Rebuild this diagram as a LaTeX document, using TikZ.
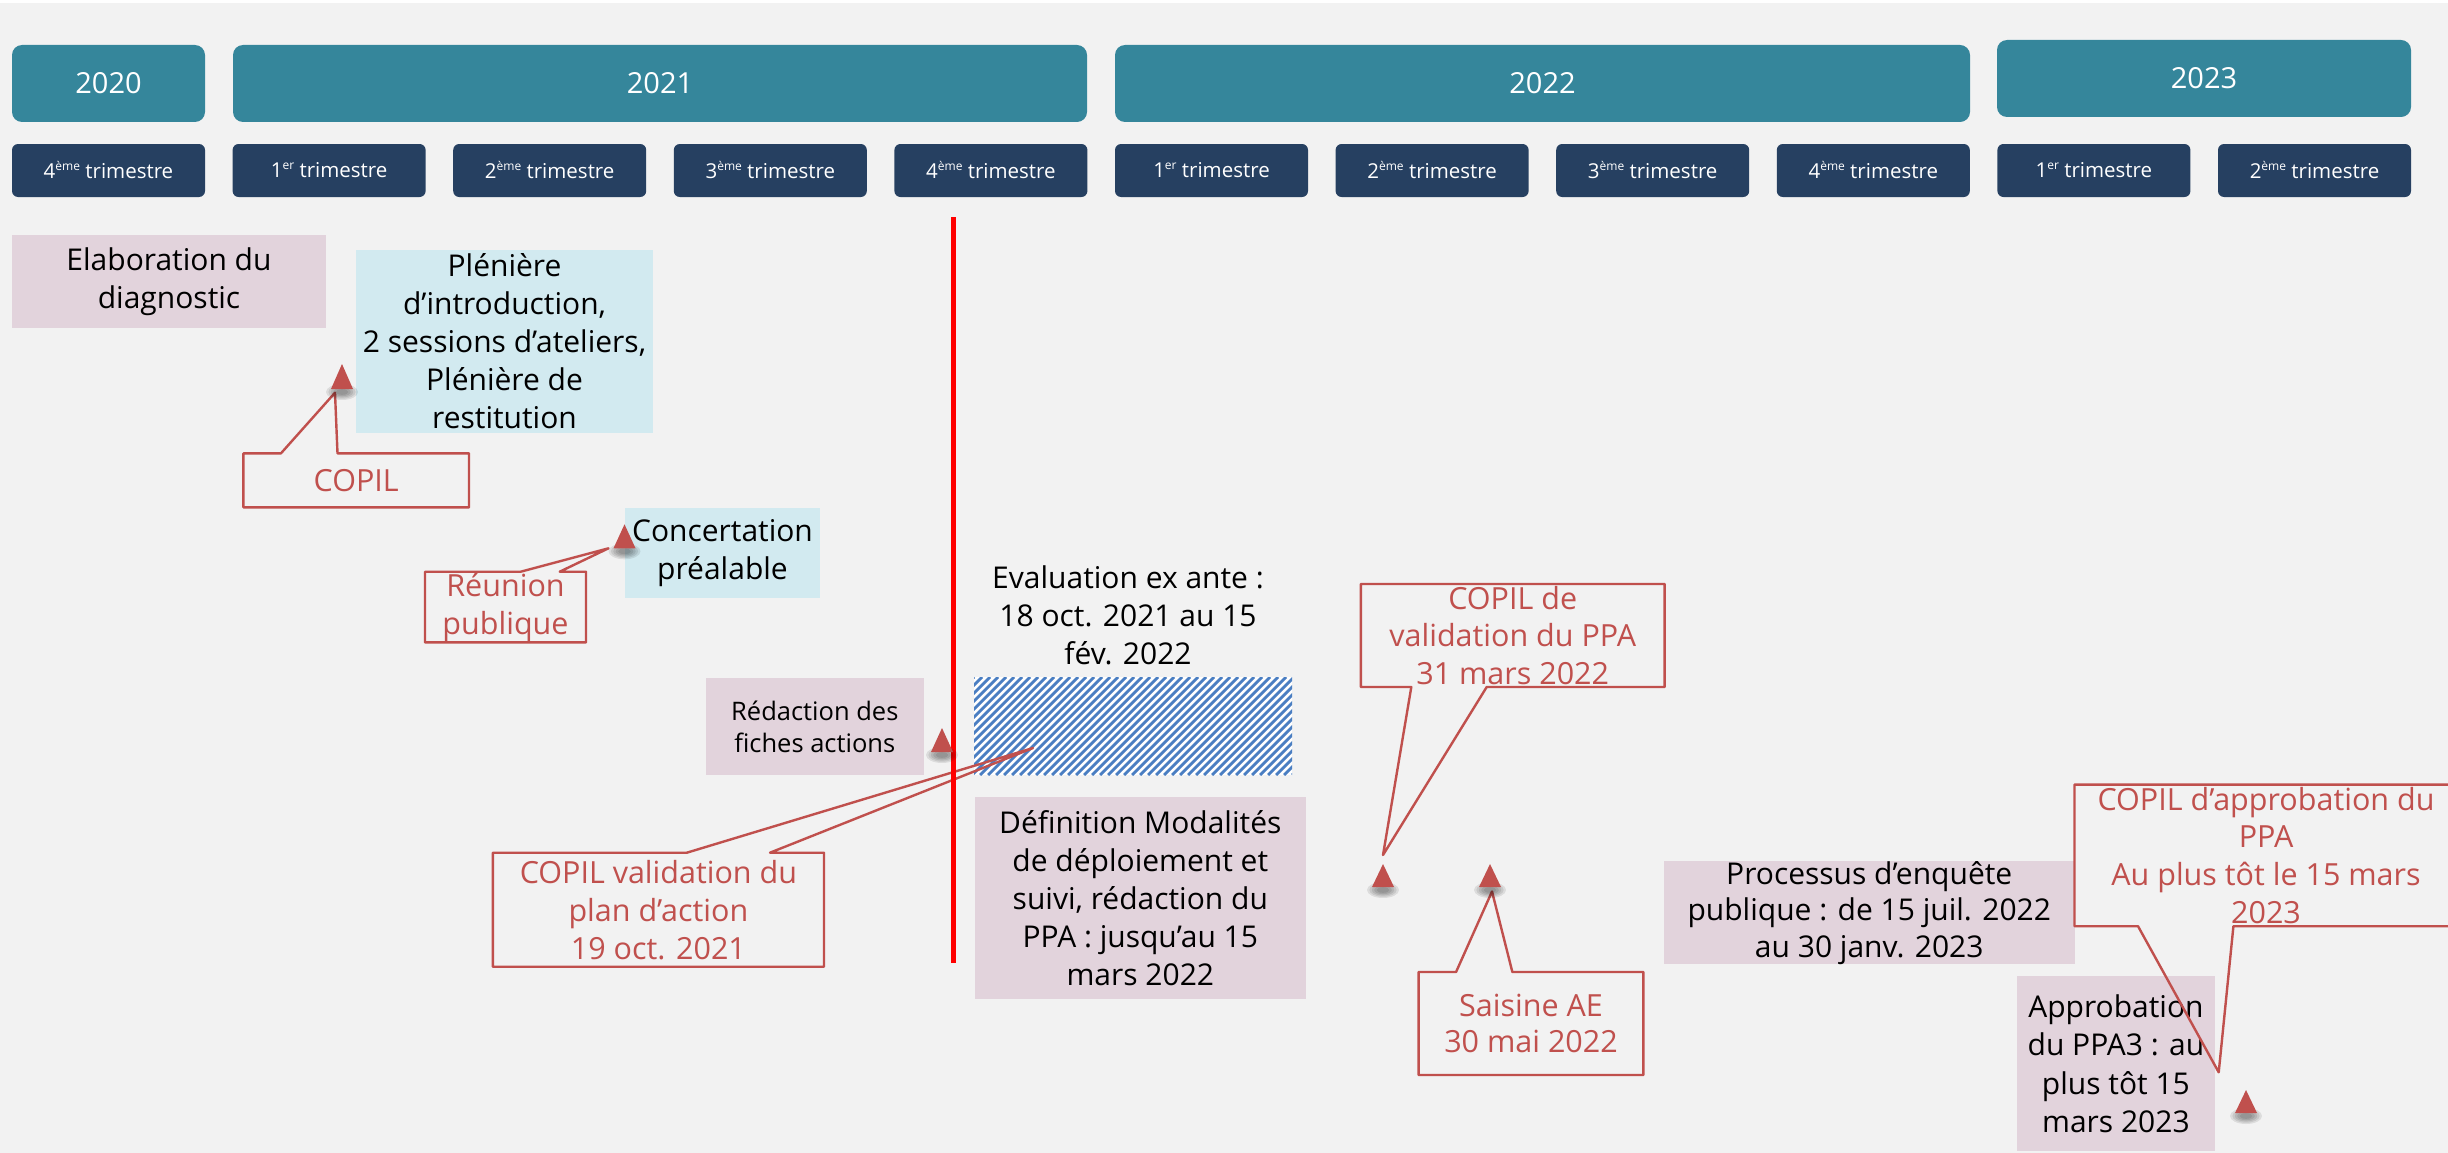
\documentclass[tikz,border=0pt]{standalone}
\usepackage{fontspec}
\setmainfont{Open Sans}
\usetikzlibrary{calc}
\definecolor{bgc}{HTML}{F2F2F2}
\definecolor{tealc}{HTML}{35869B}
\definecolor{navyc}{HTML}{264061}
\definecolor{pinkc}{HTML}{E2D3DC}
\definecolor{lbluec}{HTML}{D2EAF0}
\definecolor{redc}{HTML}{C0504D}
\definecolor{hatchc}{HTML}{4A7EC2}
\newcommand\qs[1]{\raisebox{8pt}{\fontsize{12}{12}\selectfont #1}}
\newcommand\calltop[4]{%
  \draw[callout] (#1.north west) -- ($(#1.north west)+(#2,0)$) -- (#4) -- ($(#1.north west)+(#3,0)$) -- (#1.north east) -- (#1.south east) -- (#1.south west) -- cycle;}
\newcommand\callbot[4]{%
  \draw[callout] (#1.south west) -- ($(#1.south west)+(#2,0)$) -- (#4) -- ($(#1.south west)+(#3,0)$) -- (#1.south east) -- (#1.north east) -- (#1.north west) -- cycle;}
\newcommand\mrk[4]{%
  \foreach \k in {1,...,5}{\fill[black, opacity=0.09] (#1,#3+3) ellipse [x radius={4+2.4*\k}, y radius={1.5+1.3*\k}];}
  \fill[redc] (#1,#2) coordinate (#4) -- (#1-11,#3) -- (#1+11,#3) -- cycle;}
\begin{document}
\begin{tikzpicture}[x=1pt,y=-1pt,
  yearbox/.style={fill=tealc, rounded corners=10, text=white, font=\fontsize{29}{34}\selectfont, inner sep=0, outer sep=0, minimum height=77},
  qbox/.style={fill=navyc, rounded corners=6, text=white, font=\fontsize{20.5}{24}\selectfont, inner sep=0, outer sep=0, minimum width=193, minimum height=53},
  txt/.style={font=\fontsize{30}{38}\selectfont, align=center, inner sep=0, outer sep=0},
  pinkbox/.style={txt, fill=pinkc},
  bluebox/.style={txt, fill=lbluec},
  calloutnode/.style={txt, font=\fontsize{30.5}{38}\selectfont, text=redc},
  callout/.style={draw=redc, line width=2.4, line join=round},
]
\useasboundingbox (0,0) rectangle (2448,1153);
\fill[bgc] (0,0) rectangle (2448,1153);
\fill[white] (0,0) rectangle (2448,3);

% years
\node[yearbox, minimum width=193] (y2020) at (108.5,83.5) {2020};
\node[yearbox, minimum width=854] (y2021) at (660,83.5) {2021};
\node[yearbox, minimum width=855] (y2022) at (1542.5,83.5) {2022};
\node[yearbox, minimum width=414] (y2023) at (2204,78.5) {2023};

% quarters
\foreach \i/\lab in {0/{4\qs{ème}}, 1/{1\qs{er}}, 2/{2\qs{ème}}, 3/{3\qs{ème}}, 4/{4\qs{ème}}, 5/{1\qs{er}}, 6/{2\qs{ème}}, 7/{3\qs{ème}}, 8/{4\qs{ème}}, 9/{1\qs{er}}, 10/{2\qs{ème}}}
  \node[qbox] (q\i) at (108.5+220.6*\i,170.5) {\lab\ trimestre};

% boxes
\node[pinkbox, minimum width=314, minimum height=92.7] (elab) at (169,281.4) {Elaboration du\\diagnostic};
\node[bluebox, minimum width=297, minimum height=182.7] (plen) at (504.5,341.4) {Plénière\\d’introduction,\\2 sessions d’ateliers,\\Plénière de\\restitution};
\node[bluebox, minimum width=195, minimum height=90.5] (conc) at (722.5,552.8) {Concertation\\préalable};
\node[pinkbox, font=\fontsize{25.5}{32}\selectfont, minimum width=217.5, minimum height=97] (redac) at (814.8,726.5) {Rédaction des\\fiches actions};
\node[pinkbox, minimum width=330.6, minimum height=202.3] (defin) at (1140.3,897.9) {Définition Modalités\\de déploiement et\\suivi, rédaction du\\PPA : jusqu’au 15\\mars 2022};
\node[pinkbox, font=\fontsize{30}{36.5}\selectfont, minimum width=410.7, minimum height=102.3] (proc) at (1869.2,912.7) {Processus d’enquête\\publique : de 15 juil. 2022\\au 30 janv. 2023};
\node[pinkbox, font=\fontsize{30}{38.5}\selectfont, minimum width=198.3, minimum height=175] (appro) at (2115.9,1063.5) {Approbation\\du PPA3 : au\\plus tôt 15\\mars 2023};
\node[txt] (evalt) at (1128,615) {Evaluation ex ante :\\18 oct. 2021 au 15\\fév. 2022};

% hatched bar
\node[fill=white, inner sep=0, outer sep=0, minimum width=318, minimum height=98] (hatch) at (1133,726) {};
\begin{scope}
  \clip (hatch.south west) rectangle (hatch.north east);
  \foreach \x in {876,884,...,1300}
    \draw[hatchc, line width=2.8] (\x,775) -- ++(98,-98);
\end{scope}

% callouts
\node[calloutnode, minimum width=225.6, minimum height=54] (c1) at (356.2,480.3) {COPIL};
\node[calloutnode, minimum width=161, minimum height=70.6] (c2) at (505.5,607) {Réunion\\publique};
\node[calloutnode, minimum width=331.2, minimum height=114] (c3) at (658.4,909.7) {COPIL validation du\\plan d’action\\19 oct. 2021};
\node[calloutnode, font=\fontsize{30.5}{37.5}\selectfont, minimum width=303.8, minimum height=103] (c4) at (1512.7,635.5) {COPIL de\\validation du PPA\\31 mars 2022};
\node[calloutnode, font=\fontsize{30.5}{36.5}\selectfont, minimum width=224.7, minimum height=103] (c5) at (1531,1023.5) {Saisine AE\\30 mai 2022};
\node[calloutnode, font=\fontsize{30.5}{37.7}\selectfont, minimum width=383, minimum height=141.6] (c6) at (2266,855.4) {COPIL d’approbation du\\PPA\\Au plus tôt le 15 mars\\2023};

\coordinate (t1) at (335,392.7);
\coordinate (t2) at (608.5,548.3);
\coordinate (t3) at (1033,748);
\coordinate (t4) at (1383,855);
\coordinate (t5) at (1492,891.5);
\coordinate (t6) at (2218.7,1072.3);

\calltop{c1}{37.6}{94.1}{t1}
\calltop{c2}{95.7}{134.7}{t2}
\calltop{c3}{194}{277.2}{t3}
\callbot{c4}{50.5}{125.9}{t4}
\calltop{c5}{37.4}{93.7}{t5}
\callbot{c6}{63.5}{158.9}{t6}

% red vertical line
\coordinate (rlt) at (953.5,217);
\coordinate (rlb) at (953.5,963);
\draw[red, line width=5] (rlt) -- (rlb);

% markers
\mrk{342}{364}{389}{m1}
\mrk{624.5}{524.3}{548.3}{m2}
\mrk{942}{728}{752}{m3}
\mrk{1383}{864}{887}{m4}
\mrk{1490}{864}{887}{m5}
\mrk{2246}{1090}{1113}{m6}
\end{tikzpicture}
\end{document}
